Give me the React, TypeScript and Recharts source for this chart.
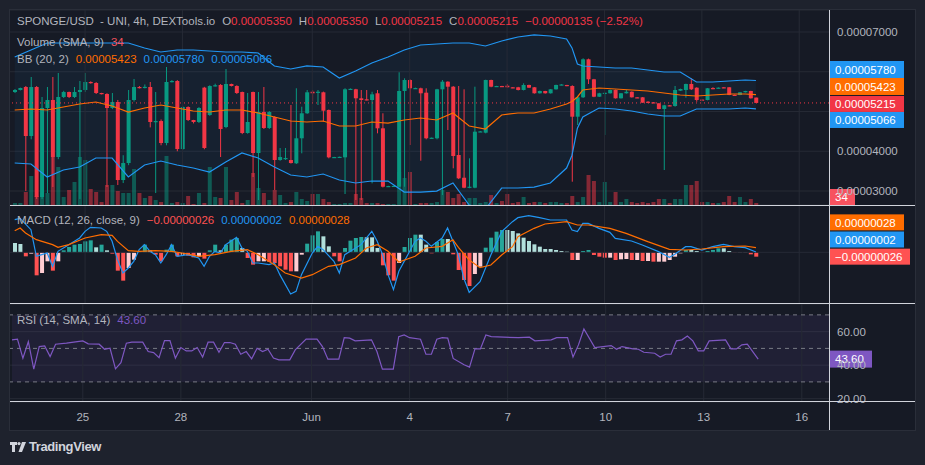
import React from "react";
import {
  ComposedChart,
  Bar,
  Line,
  Area,
  XAxis,
  YAxis,
  ReferenceLine,
  ReferenceArea,
  CartesianGrid,
  Cell,
} from "recharts";

// ---------- DATA (prices in units of 1e-8 USD, 4h candles) ----------
const openP = [
  5490, 5541, 5616, 4383, 5616, 2849, 5088, 5289, 3855, 5365,
  5490, 5365, 5490, 5541, 5742, 5717, 5465, 5440, 5088, 5239,
  3276, 3704, 5289, 5616, 5590, 5616, 4736, 4760, 4207, 5742,
  5767, 4056, 5113, 4786, 4736, 5600, 4912, 5641, 5667, 4610,
  5692, 5641, 5490, 4459, 5490, 3956, 4987, 4585, 4861, 3780,
  3800, 3780, 3697, 4326, 4955, 5497, 5473, 5483, 5038, 3847,
  3850, 3847, 5558, 5558, 5332, 5307, 5289, 5458, 4577, 3108,
  3125, 3108, 5516, 5792, 5584, 5584, 5473, 4326, 4326, 5558,
  5750, 5624, 3906, 3334, 3083, 3083, 4492, 4467, 5792, 5624,
  5641, 5649, 5609, 5609, 5541, 5667, 5609, 5458, 5516, 5458,
  5558, 5667, 5667, 5641, 4869, 5357, 6313, 5810, 5372, 5458,
  5458, 5541, 5332, 5458, 5497, 5357, 5357, 5246, 5231, 5206,
  5063, 5156, 5138, 5523, 5541, 5692, 5599, 5300, 5289, 5590,
  5590, 5609, 5609, 5420, 5415, 5483, 5516, 5350,
];
const highP = [
  5566, 5600, 5641, 5868, 5640, 5365, 5616, 5868, 5968, 5520,
  5500, 5616, 5767, 5968, 5760, 5740, 5470, 5460, 5465, 5290,
  3900, 5541, 5818, 5640, 5680, 5742, 5490, 4800, 6119, 5790,
  5790, 5140, 5130, 4790, 5110, 5620, 5660, 5700, 5690, 6069,
  5700, 5660, 5500, 5465, 5500, 5490, 5616, 5010, 4880, 4082,
  4082, 5163, 5584, 5120, 5541, 5541, 5541, 5500, 5050, 3860,
  3865, 5584, 5580, 5570, 5541, 5541, 5497, 5541, 4955, 3130,
  3135, 5986, 5835, 5810, 5600, 5600, 5584, 4345, 5570, 5792,
  5760, 5640, 5641, 5558, 3822, 5624, 4510, 5800, 5800, 5645,
  5645, 5692, 5612, 5620, 5709, 5675, 5615, 5525, 5520, 5565,
  5675, 5685, 5670, 5660, 5380, 6338, 6330, 5820, 5470, 5480,
  5550, 5550, 5465, 5541, 5505, 5362, 5365, 5260, 5236, 5212,
  5170, 5160, 5641, 5575, 5700, 5835, 5610, 5305, 5590, 5610,
  5605, 5612, 5615, 5425, 5490, 5520, 5520, 5350,
];
const lowP = [
  5465, 5530, 3000, 4300, 2800, 2800, 2949, 3100, 3800, 5340,
  5340, 5340, 2800, 5490, 5700, 5440, 5430, 3100, 5060, 3150,
  3200, 3650, 5250, 5580, 5580, 4600, 2949, 4150, 4150, 5730,
  4000, 4030, 4760, 4700, 4710, 4050, 4890, 5630, 3855, 4580,
  5630, 5440, 4430, 4440, 3352, 2773, 4560, 4560, 3025, 3760,
  3780, 3690, 3680, 3948, 4940, 5246, 5163, 4743, 3822, 3840,
  3845, 2924, 5550, 2773, 2773, 5280, 3193, 4451, 3090, 3100,
  3115, 3100, 3108, 4157, 5580, 3762, 4300, 4320, 4300, 2899,
  4534, 3571, 3300, 3070, 3070, 3070, 4485, 4450, 5610, 5620,
  5625, 5600, 5595, 5530, 5530, 5590, 5450, 5450, 5450, 5450,
  5550, 5660, 5635, 3234, 4660, 5340, 5692, 5360, 5365, 4408,
  5450, 5325, 5325, 5450, 5350, 5340, 5215, 5210, 5210, 5055,
  3528, 5140, 5120, 5515, 5347, 5540, 5246, 5285, 5280, 5560,
  5585, 5595, 5410, 5405, 5410, 5478, 5325, 5215,
];
const closeP = [
  5541, 5591, 4383, 5616, 2849, 5088, 5289, 3855, 5365, 5490,
  5365, 5490, 5541, 5742, 5717, 5465, 5440, 5088, 5239, 3276,
  3704, 5289, 5616, 5590, 5620, 4736, 4760, 4207, 5742, 5767,
  4056, 5113, 4786, 4736, 5088, 4082, 5641, 5660, 4560, 5692,
  5641, 5465, 4459, 4736, 3956, 4987, 4585, 4987, 3780, 3855,
  3830, 3704, 4326, 4955, 5483, 5458, 5497, 5020, 3847, 3855,
  3860, 5558, 5570, 5332, 5289, 5289, 5432, 4577, 3108, 3125,
  3130, 5516, 5792, 5584, 5590, 5458, 4326, 4340, 5558, 5750,
  5624, 3880, 3319, 3083, 3108, 4492, 4500, 5792, 5624, 5641,
  5630, 5609, 5600, 5541, 5667, 5599, 5458, 5516, 5458, 5558,
  5667, 5680, 5641, 4869, 5357, 6313, 5810, 5372, 5458, 5470,
  5541, 5332, 5458, 5497, 5357, 5345, 5221, 5225, 5214, 5063,
  5156, 5145, 5541, 5566, 5692, 5558, 5289, 5289, 5584, 5580,
  5600, 5600, 5415, 5410, 5483, 5516, 5332, 5215,
];
const volume = [
  8, 8, 52, 116, 36, 48, 48, 192, 152, 32,
  60, 92, 192, 180, 64, 52, 12, 80, 80, 56,
  48, 48, 144, 48, 28, 36, 20, 12, 196, 8,
  12, 8, 36, 4, 48, 8, 152, 32, 28, 152,
  20, 52, 8, 20, 128, 68, 48, 20, 60, 40,
  8, 12, 52, 24, 16, 44, 44, 24, 12, 4,
  4, 8, 8, 44, 28, 8, 8, 8, 4, 4,
  4, 132, 108, 132, 4, 8, 8, 8, 12, 60,
  52, 28, 44, 12, 28, 28, 8, 12, 40, 8,
  16, 44, 8, 12, 32, 8, 12, 12, 8, 12,
  12, 8, 8, 36, 12, 32, 120, 96, 12, 92,
  12, 52, 12, 24, 12, 8, 12, 8, 12, 24,
  24, 8, 24, 24, 80, 80, 96, 12, 12, 8,
  8, 12, 36, 12, 32, 12, 24, 8,
];
const volumeSma = 34;

// Bollinger Bands read at sample candles: [index, upper, basis, lower]
const bbPoints: number[][] = [
  [0, 6371, 5038, 3704], [3, 6547, 5063, 3679], [6, 6723, 5038, 3352],
  [9, 6723, 5113, 3528], [12, 6723, 5188, 3603], [15, 6723, 5239, 3830],
  [18, 6723, 5138, 3830], [21, 6723, 4987, 3352], [24, 6597, 5088, 3654],
  [27, 6497, 5163, 3754], [30, 6547, 5088, 3654], [33, 6547, 5012, 3578],
  [36, 6522, 4987, 3478], [39, 6497, 5038, 3729], [42, 6497, 5038, 3956],
  [45, 6472, 4962, 3830], [48, 6145, 4861, 3603], [51, 6069, 4761, 3402],
  [54, 6145, 4736, 3352], [57, 6119, 4761, 3427], [60, 5843, 4635, 3276],
  [63, 6019, 4635, 3201], [66, 6220, 4736, 3251], [69, 6371, 4710, 3251],
  [72, 6547, 4786, 2974], [75, 6673, 4836, 2974], [78, 6698, 4786, 2999],
  [81, 6723, 4962, 3201], [84, 6723, 4635, 2647], [87, 6648, 4560, 2547],
  [90, 6774, 4912, 3075], [93, 6874, 4962, 3075], [96, 6925, 4962, 3100],
  [99, 6899, 5063, 3201], [102, 6824, 5188, 3578], [103, 6600, 5250, 3900],
  [104, 6195, 5365, 4580], [105, 6145, 5541, 4861], [108, 6119, 5591, 5088],
  [111, 6094, 5566, 5063], [114, 6094, 5541, 5012], [117, 6044, 5516, 4937],
  [120, 5994, 5465, 4887], [123, 5994, 5415, 4887], [126, 5742, 5390, 5063],
  [129, 5742, 5415, 5063], [132, 5767, 5440, 5063], [135, 5792, 5440, 5088],
  [137, 5780, 5423, 5066],
];

// MACD values in units of 1e-8
const macdHist = [
  56, 50, -24, -8, -138, -124, -54, -110, -54, 12,
  32, 46, 50, 66, 72, 30, 46, 12, -8, -110,
  -170, -94, -44, 6, 46, 12, -14, -54, 16, 46,
  -24, -14, -20, -30, -24, -38, 12, 46, 12, 46,
  76, 86, 26, -34, -74, -54, -54, -58, -64, -84,
  -104, -114, -114, -14, 52, 102, 126, 96, 36, -24,
  -54, 26, 70, 86, 92, 90, 90, 26, -78, -138,
  -170, -64, 32, 86, 106, 106, 46, -6, 62, 80,
  80, -12, -106, -166, -202, -130, -86, 28, 88, 124,
  134, 134, 128, 114, 88, 68, 48, 34, 20, 20,
  14, 8, 4, -46, -46, 8, 14, -16, -26, -32,
  -32, -46, -42, -40, -46, -46, -52, -52, -56, -56,
  -56, -46, -26, -6, 14, 14, 8, -2, 8, 14,
  24, 24, 8, -2, -2, -2, -12, -26,
];
const macdPoints: number[][] = [
  [0, 196], [1, 204], [3, 136], [4, -24], [5, -14], [6, -4], [7, -84], [8, 6],
  [10, 46], [12, 86], [13, 126], [14, 150], [16, 146], [17, 126], [18, 66],
  [19, -44], [20, -124], [21, -94], [22, -54], [23, 16], [24, 46], [25, 6],
  [26, -14], [27, -64], [28, -14], [29, 46], [30, -24], [32, -14], [34, -34],
  [35, -84], [36, -24], [37, 6], [38, -4], [39, 46], [41, 90], [42, 26], [43, 6],
  [44, -64], [45, -64], [47, -74], [48, -64], [49, -134], [51, -250], [52, -234],
  [53, -134], [55, -4], [56, 36], [57, 16], [59, -54], [60, -124], [61, -14],
  [64, 46], [66, 126], [67, 66], [68, -14], [69, -134], [70, -224], [71, -114],
  [73, 6], [74, 66], [75, 86], [76, 66], [77, 36], [79, 86], [80, 146], [81, 66],
  [82, -16], [83, -156], [84, -240], [86, -176], [88, -16], [90, 124], [92, 184],
  [93, 208], [95, 220], [97, 208], [99, 194], [102, 194], [103, 134], [104, 124],
  [105, 174], [106, 174], [108, 144], [110, 120], [111, 84], [114, 68], [116, 44],
  [119, 4], [121, -30], [122, -12], [124, 34], [125, 34], [127, 14], [129, 34],
  [131, 48], [133, 34], [135, 28], [137, 2],
];
const signalPoints: number[][] = [
  [0, 130], [1, 146], [2, 116], [4, 76], [7, 46], [8, 30], [10, 46], [13, 86],
  [16, 106], [18, 102], [19, 66], [21, 10], [23, 6], [26, 10], [29, 6], [32, -10],
  [34, -24], [37, -14], [40, 6], [43, 16], [45, -14], [48, -74], [50, -124],
  [53, -154], [55, -134], [58, -84], [60, -74], [63, -34], [65, 26], [67, 46],
  [69, 6], [71, -58], [74, -24], [76, 26], [79, 36], [81, 75], [82, 30], [84, -46],
  [86, -92], [88, -76], [90, -16], [92, 34], [93, 94], [96, 144], [98, 170],
  [102, 184], [104, 164], [106, 164], [110, 144], [113, 114], [117, 64], [121, 18],
  [124, 14], [127, 20], [131, 34], [135, 38], [137, 28],
];

// RSI(14) read at sample candles: [index, value]
const rsiPoints: number[][] = [
  [0, 55.1], [1, 55.5], [2, 44.2], [3, 54.0], [4, 37.6], [5, 51.1], [6, 51.5],
  [7, 45.1], [8, 52.5], [10, 53.1], [12, 54.0], [13, 54.5], [14, 52.7], [16, 52.5],
  [17, 49.5], [18, 50.1], [19, 37.8], [20, 41.5], [21, 53.1], [22, 53.7], [24, 53.7],
  [25, 48.1], [26, 47.5], [27, 44.5], [28, 54.6], [29, 54.6], [30, 44.2], [31, 50.5],
  [32, 48.5], [33, 48.5], [34, 50.5], [35, 44.8], [36, 53.7], [37, 53.7], [38, 47.7],
  [39, 53.5], [40, 53.5], [41, 52.5], [42, 46.5], [43, 48.1], [44, 43.8], [45, 50.1],
  [46, 48.1], [47, 49.5], [48, 44.2], [49, 43.2], [51, 43.2], [52, 49.1], [54, 55.5],
  [56, 55.5], [57, 51.1], [58, 43.6], [60, 43.6], [61, 56.4], [62, 56.1], [63, 54.5],
  [66, 55.1], [67, 48.1], [68, 37.6], [70, 37.6], [71, 57.0], [72, 58.0], [73, 56.4],
  [75, 55.5], [76, 46.5], [77, 46.5], [78, 55.5], [79, 56.4], [80, 56.1], [81, 44.0],
  [83, 40.2], [84, 38.8], [85, 49.7], [86, 49.7], [87, 58.0], [88, 57.0], [93, 56.4],
  [95, 56.7], [96, 54.5], [99, 55.1], [100, 56.4], [102, 56.4], [103, 44.8], [104, 52.1],
  [105, 61.6], [107, 50.5], [110, 51.7], [111, 49.5], [112, 51.1], [114, 49.7],
  [115, 49.5], [116, 47.7], [118, 47.1], [119, 44.8], [120, 46.5], [121, 46.5],
  [122, 54.5], [123, 55.1], [124, 57.4], [125, 54.5], [126, 48.5], [127, 48.5],
  [128, 54.5], [131, 55.1], [132, 49.7], [133, 49.7], [134, 52.1], [135, 52.5],
  [137, 43.6],
];

// Day tick labels: [candle slot, label]
const dayTicks: [number, string][] = [
  [13, "25"], [31, "28"], [55, "Jun"], [73, "4"], [91, "7"], [109, "10"], [127, "13"], [145, "16"],
];
const priceTicks = [3000, 4000, 5000, 6000, 7000];
const priceTickLabels = [3000, 4000, 7000];
const rsiTicks = [20, 40, 60];
const TOTAL_SLOTS = 151;

// ---------- STYLE ----------
const FONT = '"Liberation Sans", Arial, sans-serif';
const UP = "#089981";
const DOWN = "#f23645";
const TEXT = "#b2b5be";
const GRID = "#262a35";
const BLUE = "#2196f3";
const ORANGE = "#ff6d00";
const PURPLE = "#7e57c2";

// ---------- TABLE ----------
const bbMap = new Map(bbPoints.map((p) => [p[0], p]));
const macdMap = new Map(macdPoints.map((p) => [p[0], p[1]]));
const sigMap = new Map(signalPoints.map((p) => [p[0], p[1]]));
const rsiMap = new Map(rsiPoints.map((p) => [p[0], p[1]]));
const dayMap = new Map(dayTicks);

const rows = Array.from({ length: TOTAL_SLOTS }, (_, i) => {
  const has = i < openP.length;
  const bb = bbMap.get(i);
  return {
    i,
    o: has ? openP[i] : null,
    h: has ? highP[i] : null,
    l: has ? lowP[i] : null,
    c: has ? closeP[i] : null,
    range: has ? [lowP[i], highP[i]] : null,
    vol: has ? volume[i] : null,
    hist: has ? macdHist[i] : null,
    macd: macdMap.has(i) ? macdMap.get(i) : null,
    signal: sigMap.has(i) ? sigMap.get(i) : null,
    rsi: rsiMap.has(i) ? rsiMap.get(i) : null,
    bbU: bb ? bb[1] : null,
    bbM: bb ? bb[2] : null,
    bbL: bb ? bb[3] : null,
    bbBand: bb ? [bb[3], bb[1]] : null,
  };
});

const last = openP.length - 1;
const fmt8 = (v: number) => (v < 0 ? "\u2212" : "") + (Math.abs(v) * 1e-8).toFixed(8);
const lastBB = bbPoints[bbPoints.length - 1];
const lastMacd = macdPoints[macdPoints.length - 1][1];
const lastSig = signalPoints[signalPoints.length - 1][1];
const lastHist = macdHist[last];
const lastRsi = rsiPoints[rsiPoints.length - 1][1];
const chg = closeP[last] - openP[last];
const chgPct = (chg / openP[last]) * 100;

const histColor = (k: number) => {
  const v = macdHist[k];
  const prev = k > 0 ? macdHist[k - 1] : v + 1;
  if (v >= 0) return v > prev ? "#26a69a" : "#b2dfdb";
  return v < prev ? "#ff5252" : "#ffcdd2";
};

// ---------- SHAPES ----------
const Candle = (props: any) => {
  const { x, y, width, height, payload } = props;
  if (!payload || payload.o == null) return <g />;
  const { o, h, l, c } = payload;
  const top = Math.min(y, y + height);
  const hh = Math.abs(height);
  const toY = (v: number) => top + ((h - v) / (h - l || 1)) * hh;
  const color = c >= o ? UP : DOWN;
  const bTop = toY(Math.max(o, c));
  const bBot = toY(Math.min(o, c));
  const cx = x + width / 2;
  return (
    <g>
      <line x1={cx} x2={cx} y1={top} y2={top + Math.max(hh, 1)} stroke={color} strokeWidth={1} />
      <rect x={x} y={bTop} width={width} height={Math.max(1.2, bBot - bTop)} fill={color} />
    </g>
  );
};

const Tag = (props: any) => {
  const { viewBox, text, bg, dy = 0, w = 75, h = 17 } = props;
  if (!viewBox) return <g />;
  const x = viewBox.x + viewBox.width;
  const cy = viewBox.y + dy;
  return (
    <g>
      <rect x={x} y={cy - h / 2} width={w} height={h} fill={bg} />
      <text x={x + 6} y={cy} dy="0.36em" fill="#ffffff" fontSize={11.5} fontFamily={FONT}>
        {text}
      </text>
    </g>
  );
};

const PriceTick = (props: any) => {
  const { x, y, payload } = props;
  if (!priceTickLabels.includes(payload.value)) return <g />;
  return (
    <text x={x} y={y} dy="0.36em" fill={TEXT} fontSize={11.5} fontFamily={FONT} textAnchor="start">
      {fmt8(payload.value)}
    </text>
  );
};

const RsiTick = (props: any) => {
  const { x, y, payload } = props;
  return (
    <text x={x} y={y} dy="0.36em" fill={TEXT} fontSize={11.5} fontFamily={FONT} textAnchor="start">
      {Number(payload.value).toFixed(2)}
    </text>
  );
};

const DayTick = (props: any) => {
  const { x, y, payload } = props;
  const lbl = dayMap.get(payload.value);
  if (!lbl) return <g />;
  return (
    <text x={x} y={y + 3} dy="0.71em" fill={TEXT} fontSize={11.5} fontFamily={FONT} textAnchor="middle">
      {lbl}
    </text>
  );
};

const dayLines = () =>
  dayTicks.map(([idx]) => <ReferenceLine key={"d" + idx} x={idx} stroke={GRID} />);

const PAD = { left: 2, right: 0 };
const M0 = { top: 0, right: 0, bottom: 0, left: 0 };

const legendRow = (top: number): React.CSSProperties => ({
  position: "absolute",
  left: 17,
  top,
  display: "flex",
  gap: 7,
  fontFamily: FONT,
  fontSize: 11.5,
  lineHeight: "14px",
  color: TEXT,
  whiteSpace: "pre",
});

export default function App() {
  return (
    <div
      style={{
        position: "fixed",
        left: 0,
        top: 0,
        width: 925,
        height: 465,
        background: "#1e222d",
        overflow: "hidden",
      }}
    >
      <div
        style={{
          position: "absolute",
          left: 9,
          top: 9,
          width: 907,
          height: 422,
          boxSizing: "border-box",
          border: "1px solid #2a2e39",
          background: "#161a25",
        }}
      />

      {/* Price pane */}
      <div style={{ position: "absolute", left: 10, top: 10 }}>
        <ComposedChart width={905} height={195} data={rows} margin={M0}>
          <CartesianGrid stroke={GRID} vertical={false} />
          <XAxis dataKey="i" hide padding={PAD} />
          <XAxis xAxisId="v" dataKey="i" hide padding={PAD} />
          <YAxis
            orientation="right"
            width={86}
            domain={[2648, 7553]}
            allowDataOverflow
            ticks={priceTicks}
            interval={0}
            tick={<PriceTick />}
            axisLine={false}
            tickLine={false}
          />
          <YAxis yAxisId="vol" hide domain={[0, 780]} allowDataOverflow />
          {dayLines()}
          <Bar xAxisId="v" yAxisId="vol" dataKey="vol" barSize={4} isAnimationActive={false}>
            {rows.map((r, k) => (
              <Cell
                key={k}
                fill={r.c != null && r.c >= (r.o as number) ? UP : DOWN}
                fillOpacity={0.5}
              />
            ))}
          </Bar>
          <Area
            dataKey="bbBand"
            stroke="none"
            fill={BLUE}
            fillOpacity={0.06}
            connectNulls
            isAnimationActive={false}
            dot={false}
            activeDot={false}
          />
          <Bar dataKey="range" barSize={4} shape={<Candle />} isAnimationActive={false} />
          <Line dataKey="bbU" stroke={BLUE} strokeWidth={1.2} dot={false} activeDot={false} connectNulls isAnimationActive={false} />
          <Line dataKey="bbL" stroke={BLUE} strokeWidth={1.2} dot={false} activeDot={false} connectNulls isAnimationActive={false} />
          <Line dataKey="bbM" stroke={ORANGE} strokeWidth={1.2} dot={false} activeDot={false} connectNulls isAnimationActive={false} />
          <ReferenceLine
            y={closeP[last]}
            stroke={DOWN}
            strokeDasharray="1 3"
            label={<Tag text={fmt8(closeP[last])} bg={DOWN} dy={1} h={16} />}
          />
          <ReferenceLine y={lastBB[1]} stroke="none" label={<Tag text={fmt8(lastBB[1])} bg={BLUE} dy={-11} />} />
          <ReferenceLine y={lastBB[2]} stroke="none" label={<Tag text={fmt8(lastBB[2])} bg={ORANGE} dy={-8.2} />} />
          <ReferenceLine y={lastBB[3]} stroke="none" label={<Tag text={fmt8(lastBB[3])} bg={BLUE} dy={11.1} h={16} />} />
          <ReferenceLine
            xAxisId="v"
            yAxisId="vol"
            y={volumeSma}
            stroke="none"
            label={<Tag text={String(volumeSma)} bg="#f7525f" dy={0.5} w={26} h={16} />}
          />
        </ComposedChart>
      </div>

      {/* MACD pane */}
      <div style={{ position: "absolute", left: 10, top: 206 }}>
        <ComposedChart width={905} height={97} data={rows} margin={M0}>
          <XAxis dataKey="i" hide padding={PAD} />
          <YAxis
            orientation="right"
            width={86}
            domain={[-304, 278]}
            allowDataOverflow
            tick={false}
            axisLine={false}
            tickLine={false}
          />
          {dayLines()}
          <ReferenceLine y={0} stroke={GRID} />
          <Bar dataKey="hist" barSize={4} isAnimationActive={false}>
            {rows.map((r, k) => (
              <Cell key={k} fill={k < macdHist.length ? histColor(k) : "none"} />
            ))}
          </Bar>
          <Line dataKey="macd" stroke={BLUE} strokeWidth={1.2} dot={false} activeDot={false} connectNulls isAnimationActive={false} />
          <Line dataKey="signal" stroke={ORANGE} strokeWidth={1.2} dot={false} activeDot={false} connectNulls isAnimationActive={false} />
          <ReferenceLine y={lastSig} stroke="none" label={<Tag text={fmt8(lastSig)} bg={ORANGE} dy={-25.3} h={16} />} />
          <ReferenceLine y={lastMacd} stroke="none" label={<Tag text={fmt8(lastMacd)} bg={BLUE} dy={-12.5} h={16} />} />
          <ReferenceLine y={lastHist} stroke="none" label={<Tag text={fmt8(lastHist)} bg="#ff5252" dy={0} w={81} h={16} />} />
        </ComposedChart>
      </div>

      {/* RSI pane + time axis */}
      <div style={{ position: "absolute", left: 10, top: 304 }}>
        <ComposedChart width={905} height={126} data={rows} margin={M0}>
          <CartesianGrid stroke={GRID} vertical={false} />
          <XAxis
            dataKey="i"
            height={28}
            padding={PAD}
            interval={0}
            tick={<DayTick />}
            axisLine={false}
            tickLine={false}
          />
          <YAxis
            orientation="right"
            width={86}
            domain={[18, 76.5]}
            allowDataOverflow
            ticks={rsiTicks}
            interval={0}
            tick={<RsiTick />}
            axisLine={false}
            tickLine={false}
          />
          {dayLines()}
          <ReferenceArea y1={30} y2={70} fill={PURPLE} fillOpacity={0.1} stroke="none" />
          <ReferenceLine y={70} stroke="#787b86" strokeDasharray="4 4" />
          <ReferenceLine y={50} stroke="#787b86" strokeDasharray="4 4" />
          <ReferenceLine y={30} stroke="#787b86" strokeDasharray="4 4" />
          <Line dataKey="rsi" stroke={PURPLE} strokeWidth={1.2} dot={false} activeDot={false} connectNulls isAnimationActive={false} />
          <ReferenceLine y={lastRsi} stroke="none" label={<Tag text={lastRsi.toFixed(2)} bg={PURPLE} dy={0} w={43} h={17} />} />
        </ComposedChart>
      </div>

      {/* pane separators */}
      <div style={{ position: "absolute", left: 10, top: 205, width: 905, height: 1, background: "#d1d4dc" }} />
      <div style={{ position: "absolute", left: 10, top: 303, width: 905, height: 1, background: "#d1d4dc" }} />
      <div style={{ position: "absolute", left: 10, top: 401, width: 905, height: 1, background: "#d1d4dc" }} />
      <div style={{ position: "absolute", left: 829, top: 10, width: 1, height: 420, background: "#d1d4dc" }} />

      {/* legends */}
      <div style={legendRow(14)}>
        <span>SPONGE/USD  - UNI, 4h, DEXTools.io</span>
        <span>
          O<span style={{ color: DOWN }}>{fmt8(openP[last])}</span>
        </span>
        <span>
          H<span style={{ color: DOWN }}>{fmt8(highP[last])}</span>
        </span>
        <span>
          L<span style={{ color: DOWN }}>{fmt8(lowP[last])}</span>
        </span>
        <span>
          C<span style={{ color: DOWN }}>{fmt8(closeP[last])}</span>
        </span>
        <span style={{ color: DOWN }}>
          {fmt8(chg) + " (\u2212" + Math.abs(chgPct).toFixed(2) + "%)"}
        </span>
      </div>
      <div style={legendRow(35)}>
        <span>Volume (SMA, 9)</span>
        <span style={{ color: "#f7525f" }}>{volumeSma}</span>
      </div>
      <div style={legendRow(52)}>
        <span>BB (20, 2)</span>
        <span style={{ color: ORANGE }}>{fmt8(lastBB[2])}</span>
        <span style={{ color: BLUE }}>{fmt8(lastBB[1])}</span>
        <span style={{ color: BLUE }}>{fmt8(lastBB[3])}</span>
      </div>
      <div style={legendRow(213)}>
        <span>MACD (12, 26, close, 9)</span>
        <span style={{ color: "#ff5252" }}>{fmt8(lastHist)}</span>
        <span style={{ color: BLUE }}>{fmt8(lastMacd)}</span>
        <span style={{ color: ORANGE }}>{fmt8(lastSig)}</span>
      </div>
      <div style={legendRow(313)}>
        <span>RSI (14, SMA, 14)</span>
        <span style={{ color: PURPLE }}>{lastRsi.toFixed(2)}</span>
      </div>

      {/* TradingView mark */}
      <div
        style={{
          position: "absolute",
          left: 10,
          top: 439,
          display: "flex",
          alignItems: "center",
          gap: 3,
          fontFamily: FONT,
          fontSize: 13,
          fontWeight: 700,
          color: "#d1d4dc",
          letterSpacing: -0.4,
        }}
      >
        <svg width={16} height={10} viewBox="0 0 16 10">
          <path d="M0 0 H7 V3 H5 V10 H2 V3 H0 Z" fill="#d1d4dc" />
          <circle cx={9} cy={1.6} r={1.6} fill="#d1d4dc" />
          <path d="M12 0 H16 L12 10 H8.5 Z" fill="#d1d4dc" />
        </svg>
        <span>TradingView</span>
      </div>
    </div>
  );
}
